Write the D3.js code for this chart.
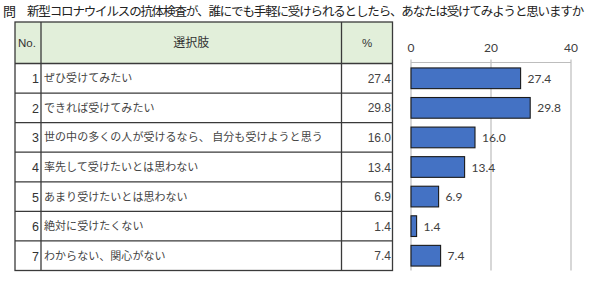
<!DOCTYPE html>
<html><head><meta charset="utf-8">
<script src="https://cdn.jsdelivr.net/npm/d3@7"></script>
<style>
html,body{margin:0;padding:0;background:#fff;}
svg{display:block;}
</style>
</head><body>
<svg id="chart" width="600" height="292"></svg>
<script>
const titleMark = "問";
const titleText = "新型コロナウイルスの抗体検査が、誰にでも手軽に受けられるとしたら、あなたは受けてみようと思いますか";
const headers = ["No.", "選択肢", "%"];
const numbers = ["1","2","3","4","5","6","7"];
const choices = [
  "ぜひ受けてみたい",
  "できれば受けてみたい",
  "世の中の多くの人が受けるなら、 自分も受けようと思う",
  "率先して受けたいとは思わない",
  "あまり受けたいとは思わない",
  "絶対に受けたくない",
  "わからない、関心がない"
];
const values = [27.4, 29.8, 16.0, 13.4, 6.9, 1.4, 7.4];
const ticks = [0, 20, 40];

const svg = d3.select("#chart");
const jp = "'Noto Sans CJK JP', 'Noto Sans', sans-serif";
const num = "'Liberation Sans', Arial, sans-serif";
const lat = "Lato, 'Open Sans', sans-serif";

// title
svg.append("text").attr("x", 3).attr("y", 16).attr("font-family", jp).attr("font-size", 13)
  .attr("fill", "#222").text(titleMark);
const tt = svg.append("text").attr("x", 27).attr("y", 16).attr("font-family", jp).attr("font-size", 12.5)
  .attr("letter-spacing", -1.4).attr("fill", "#222").text(titleText);
// fine-fit the title to the reference width
const natural = tt.node().getComputedTextLength();
const target = 556;
const adj = -1.4 + (target - natural) / titleText.length;
tt.attr("letter-spacing", adj);

// table geometry
const tLeft = 15, colNo = 41, colPct = 341.5, tRight = 392.5;
const hTop = 22, hBot = 63.5, tBot = 270.5;

const rowScale = d3.scaleBand().domain(numbers).range([hBot, tBot]).padding(0);
const barScale = d3.scaleBand().domain(numbers).range([hBot, tBot]).paddingInner(0.3).paddingOuter(0.15);
const x = d3.scaleLinear().domain([0, 40]).range([411, 571]);

// header
svg.append("rect").attr("x", tLeft).attr("y", hTop).attr("width", tRight - tLeft).attr("height", hBot - hTop)
  .attr("fill", "#e2efda");
const hy = (hTop + hBot) / 2 + 4;
svg.append("text").attr("x", 18).attr("y", hy).attr("font-family", num).attr("font-size", 11.5).attr("fill", "#333").text(headers[0]);
svg.append("text").attr("x", (colNo + colPct) / 2).attr("y", hy).attr("text-anchor", "middle")
  .attr("font-family", jp).attr("font-size", 12).attr("fill", "#333").text(headers[1]);
svg.append("text").attr("x", (colPct + tRight) / 2).attr("y", hy).attr("text-anchor", "middle")
  .attr("font-family", num).attr("font-size", 11.5).attr("fill", "#333").text(headers[2]);

// rows
const rows = svg.append("g").selectAll("g").data(numbers).join("g");
rows.append("text").attr("x", 39).attr("y", d => rowScale(d) + rowScale.bandwidth() / 2 + 5)
  .attr("text-anchor", "end").attr("font-family", num).attr("font-size", 12.5).attr("fill", "#333").text(d => d);
rows.append("text").attr("x", 44).attr("y", (d, i) => rowScale(d) + rowScale.bandwidth() / 2 + 4)
  .attr("font-family", jp).attr("font-size", 11).attr("letter-spacing", 0.05).attr("fill", "#444").text((d, i) => choices[i]);
rows.append("text").attr("x", 391).attr("y", d => rowScale(d) + rowScale.bandwidth() / 2 + 4.5)
  .attr("text-anchor", "end").attr("font-family", num).attr("font-size", 12).attr("fill", "#444")
  .text((d, i) => values[i].toFixed(1));

// table lines
const lc = "#3a3a3a";
const lines = svg.append("g").attr("stroke", lc).attr("stroke-width", 1.3).attr("fill", "none");
lines.append("rect").attr("x", tLeft).attr("y", hTop).attr("width", tRight - tLeft).attr("height", tBot - hTop);
[colNo, colPct].forEach(cx => lines.append("line").attr("x1", cx).attr("x2", cx).attr("y1", hTop).attr("y2", tBot));
lines.append("line").attr("x1", tLeft).attr("x2", tRight).attr("y1", hBot).attr("y2", hBot).attr("stroke-width", 1.6);
numbers.slice(1).forEach(d => lines.append("line").attr("x1", tLeft).attr("x2", tRight)
  .attr("y1", rowScale(d)).attr("y2", rowScale(d)));

// axis + grid
const g = svg.append("g");
g.selectAll(".grid").data(ticks).join("line").attr("class", "grid")
  .attr("x1", d => x(d)).attr("x2", d => x(d)).attr("y1", 59.5).attr("y2", tBot)
  .attr("stroke", "#bdbdbd").attr("stroke-width", 1.2);
g.append("line").attr("x1", x(0)).attr("x2", x(40)).attr("y1", 62.5).attr("y2", 62.5)
  .attr("stroke", "#bdbdbd").attr("stroke-width", 1.2);
g.selectAll(".tl").data(ticks).join("text").attr("class", "tl")
  .attr("x", d => x(d)).attr("y", 52).attr("text-anchor", "middle")
  .attr("font-family", lat).attr("font-size", 12).attr("fill", "#404040").text(d => d);

// bars
svg.append("g").selectAll("rect").data(numbers).join("rect")
  .attr("x", x(0)).attr("y", d => barScale(d))
  .attr("width", (d, i) => x(values[i]) - x(0)).attr("height", barScale.bandwidth())
  .attr("fill", "#4472c4").attr("stroke", "#1a1a1a").attr("stroke-width", 1.1);
svg.append("g").selectAll("text").data(numbers).join("text")
  .attr("x", (d, i) => x(values[i]) + 7).attr("y", d => barScale(d) + barScale.bandwidth() / 2 + 4.5)
  .attr("font-family", lat).attr("font-size", 12).attr("fill", "#404040")
  .text((d, i) => values[i].toFixed(1));
</script>
</body></html>
